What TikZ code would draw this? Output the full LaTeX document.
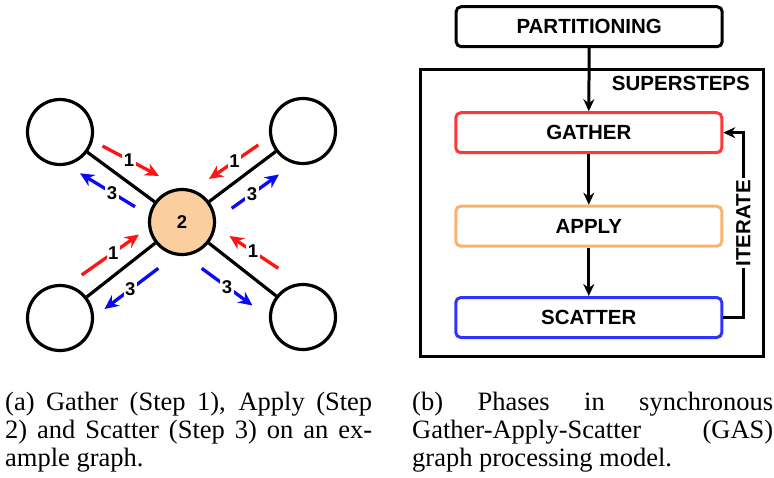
\documentclass[tikz,border=0pt]{standalone}
\usepackage{fontspec}
\setmainfont{Liberation Serif}
\newfontfamily\helv{Liberation Sans}
\usetikzlibrary{arrows.meta}
\definecolor{peach}{RGB}{251,206,160}
\definecolor{gred}{RGB}{255,20,20}
\definecolor{gblue}{RGB}{10,10,245}
\definecolor{boxred}{RGB}{255,55,55}
\definecolor{boxorange}{RGB}{250,178,110}
\definecolor{boxblue}{RGB}{50,50,255}
\begin{document}
\begin{tikzpicture}[x=1pt,y=-1pt,
  vtx/.style={circle, draw, line width=3.2pt, minimum size=65pt, inner sep=0pt},
  edgeline/.style={line width=3.2pt},
  stepred/.style={line width=3.3pt, draw=gred, -{Stealth[length=14pt,width=13pt]}},
  stepblue/.style={line width=3.3pt, draw=gblue, -{Stealth[length=14pt,width=13pt]}},
  num/.style={font=\helv\bfseries\fontsize{18.5}{18.5}\selectfont, fill=white, inner sep=1.5pt},
  phase/.style={draw, rounded corners=5pt, line width=3pt, minimum width=266pt, minimum height=40pt, inner sep=0pt, font=\helv\bfseries\fontsize{20.5}{20.5}\selectfont},
  flowarr/.style={line width=3pt, -{Stealth[length=12pt,width=11pt]}},
  captxt/.style={font=\fontsize{26.5}{28}\selectfont, inner sep=0pt, anchor=base west}
]
\useasboundingbox (0,0) rectangle (774,477);

% ---------- (a) example graph ----------
\node[vtx] (tl) at (60,132) {};
\node[vtx] (tr) at (303,131) {};
\node[vtx] (bl) at (60,318) {};
\node[vtx] (br) at (303,317) {};
\node[vtx, fill=peach, font=\helv\bfseries\fontsize{18.5}{18.5}\selectfont] (c) at (182,222) {2};

\draw[edgeline] (tl) -- (c);
\draw[edgeline] (tr) -- (c);
\draw[edgeline] (bl) -- (c);
\draw[edgeline] (br) -- (c);

% gather (1, red) and scatter (3, blue)
\draw[stepred] (102.5,146) -- node[num, pos=0.47] (g1) {1} (159,176);
\draw[stepblue] (135,206.7) -- node[num, pos=0.42] (s1) {3} (80,173.3);
\draw[stepred] (258.3,145) -- node[num, pos=0.48] (g2) {1} (209,179);
\draw[stepblue] (231.7,208.3) -- node[num, pos=0.43] (s2) {3} (279,174.5);
\draw[stepred] (81.7,275) -- node[num, pos=0.55] (g3) {1} (139,234.5);
\draw[stepblue] (158.3,268.3) -- node[num, pos=0.52] (s3) {3} (104.5,309);
\draw[stepred] (278.3,268.3) -- node[num, pos=0.52] (g4) {1} (229.5,236);
\draw[stepblue] (201.7,268.3) -- node[num, pos=0.5] (s4) {3} (252.5,305.5);

% ---------- (b) GAS phases ----------
\node[draw, line width=3pt, minimum width=342.5pt, minimum height=287pt, inner sep=0pt, outer sep=0pt] (super) at (592.2,213.3) {};
\node[font=\helv\bfseries\fontsize{20.5}{20.5}\selectfont, anchor=east, inner sep=0pt] (superlbl) at (750,83.3) {SUPERSTEPS};

\node[phase] (part) at (589.2,26.7) {PARTITIONING};
\node[phase, draw=boxred] (gather) at (588.8,132.7) {GATHER};
\node[phase, draw=boxorange] (apply) at (588.8,226.2) {APPLY};
\node[phase, draw=boxblue] (scatter) at (588.8,317.5) {SCATTER};

\draw[flowarr] (part.south) -- (gather.north);
\draw[flowarr] (gather.south) -- (apply.north);
\draw[flowarr] (apply.south) -- (scatter.north);
\draw[flowarr] (scatter.east) -- ++(20,0) coordinate (turn) |- (gather.east);
\node[rotate=90, fill=white, inner sep=2pt, font=\helv\bfseries\fontsize{20.5}{20.5}\selectfont] (iter) at (743.3,223.3) {ITERATE};

% ---------- captions ----------
\node[captxt] (ca1) at (5,410) {\makebox[367pt][s]{(a) Gather (Step 1), Apply (Step}};
\node[captxt] (ca2) at (5,438.5) {\makebox[367pt][s]{2) and Scatter (Step 3) on an ex-}};
\node[captxt] (ca3) at (5,466.7) {ample graph.};
\node[captxt] (cb1) at (412,410) {\makebox[361pt][s]{(b) Phases in synchronous}};
\node[captxt] (cb2) at (412,438.5) {\makebox[361pt][s]{Gather-Apply-Scatter (GAS)}};
\node[captxt] (cb3) at (412,466.7) {graph processing model.};
\end{tikzpicture}
\end{document}
